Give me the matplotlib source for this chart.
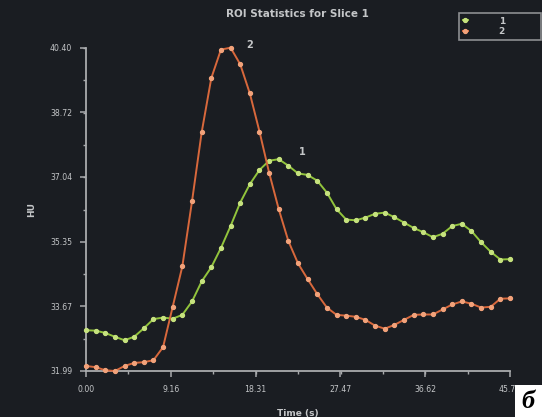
import matplotlib
matplotlib.use("Agg")
import matplotlib.pyplot as plt
from matplotlib.ticker import FixedLocator, AutoMinorLocator, FixedFormatter
from matplotlib.patches import Rectangle

# ---- data ----
time_s = [0.00, 1.04, 2.08, 3.12, 4.16, 5.20, 6.24, 7.28, 8.32, 9.36,
          10.40, 11.45, 12.49, 13.53, 14.57, 15.61, 16.65, 17.69, 18.73, 19.77,
          20.81, 21.85, 22.89, 23.93, 24.97, 26.01, 27.05, 28.09, 29.13, 30.17,
          31.21, 32.26, 33.30, 34.34, 35.38, 36.42, 37.46, 38.50, 39.54, 40.58,
          41.62, 42.66, 43.70, 44.74, 45.78]

roi1 = [33.05, 33.04, 32.98, 32.88, 32.79, 32.88, 33.10, 33.34, 33.38, 33.35,
        33.45, 33.80, 34.32, 34.69, 35.19, 35.76, 36.37, 36.85, 37.22, 37.46,
        37.50, 37.33, 37.13, 37.09, 36.94, 36.63, 36.20, 35.93, 35.91, 35.98,
        36.08, 36.11, 35.99, 35.85, 35.71, 35.60, 35.47, 35.56, 35.76, 35.82,
        35.63, 35.34, 35.09, 34.89, 34.90]

roi2 = [32.12, 32.09, 32.01, 31.99, 32.12, 32.20, 32.22, 32.27, 32.61, 33.66,
        34.71, 36.41, 38.20, 39.61, 40.35, 40.40, 39.97, 39.21, 38.22, 37.15,
        36.20, 35.37, 34.79, 34.38, 33.99, 33.64, 33.45, 33.43, 33.40, 33.32,
        33.17, 33.09, 33.19, 33.32, 33.45, 33.46, 33.46, 33.59, 33.72, 33.80,
        33.74, 33.64, 33.66, 33.87, 33.88]

series_names = ["1", "2"]
x_ticks = [0.00, 9.16, 18.31, 27.47, 36.62, 45.78]
x_tick_labels = ["0.00", "9.16", "18.31", "27.47", "36.62", "45.78"]
y_ticks = [31.99, 33.67, 35.35, 37.04, 38.72, 40.40]
y_tick_labels = ["31.99", "33.67", "35.35", "37.04", "38.72", "40.40"]

title = "ROI Statistics for Slice 1"
xlabel = "Time (s)"
ylabel = "HU"

# ---- style ----
bg = "#1a1d22"
fg = "#c4c6c8"
spine_c = "#a9abad"
green = "#92c43c"
green_m = "#c6e27e"
orange = "#d8683c"
orange_m = "#f2a27a"

fig = plt.figure(figsize=(5.42, 4.17), dpi=100, facecolor=bg)
ax = fig.add_axes([86/542, 1-371/417, (510-86)/542, (371-47.7)/417])
ax.set_facecolor(bg)

ax.plot(time_s, roi1, color=green, lw=1.4, marker="o", ms=2.8,
        mfc=green_m, mec=green_m, clip_on=False, zorder=3, label=series_names[0])
ax.plot(time_s, roi2, color=orange, lw=1.4, marker="o", ms=2.8,
        mfc=orange_m, mec=orange_m, clip_on=False, zorder=3, label=series_names[1])

ax.set_xlim(x_ticks[0], x_ticks[-1])
ax.set_ylim(y_ticks[0], y_ticks[-1])

ax.xaxis.set_major_locator(FixedLocator(x_ticks))
ax.xaxis.set_major_formatter(FixedFormatter(x_tick_labels))
ax.yaxis.set_major_locator(FixedLocator(y_ticks))
ax.yaxis.set_major_formatter(FixedFormatter(y_tick_labels))
ax.xaxis.set_minor_locator(AutoMinorLocator(2))
ax.yaxis.set_minor_locator(AutoMinorLocator(2))

for s in ["top", "right"]:
    ax.spines[s].set_visible(False)
for s in ["left", "bottom"]:
    ax.spines[s].set_color(spine_c)
    ax.spines[s].set_linewidth(1.3)

ax.tick_params(which="major", colors=spine_c, labelcolor=fg, labelsize=5.6,
               length=4, width=1.1, direction="out", pad=6)
ax.tick_params(which="minor", colors=spine_c, length=2, width=1.0, direction="out")

ax.set_xlabel(xlabel, color=fg, fontsize=6.5, fontweight="bold", labelpad=11)
ax.set_ylabel(ylabel, color=fg, fontsize=6.5, fontweight="bold", labelpad=10)
fig.text(297/542, 1-14/417, title, color=fg, fontsize=7.5, fontweight="bold",
         ha="center", va="center")

# series annotations
ax.annotate(series_names[1], xy=(time_s[15], roi2[15]), xytext=(14, 2),
            textcoords="offset points", color=fg, fontsize=7, fontweight="bold",
            ha="center", va="center", annotation_clip=False)
ax.annotate(series_names[0], xy=(time_s[20], roi1[20]), xytext=(17, 5),
            textcoords="offset points", color=fg, fontsize=7, fontweight="bold",
            ha="center", va="center", annotation_clip=False)

# legend
leg = ax.legend(loc="upper left", bbox_to_anchor=(459/542, 1-13/417, 82/542, 0.0),
                bbox_transform=fig.transFigure, mode="expand", frameon=True,
                fontsize=6.5, handlelength=0.6, handletextpad=3.4, borderpad=0.4,
                labelspacing=0.15, borderaxespad=0)
leg.get_frame().set_facecolor(bg)
leg.get_frame().set_edgecolor(spine_c)
leg.get_frame().set_linewidth(1.2)
leg.get_frame().set_boxstyle("square", pad=0)
for t in leg.get_texts():
    t.set_color(fg)
    t.set_fontweight("bold")

# white corner box with letter
fig.patches.append(Rectangle((515/542, 0), 27/542, 32/417, transform=fig.transFigure,
                             facecolor="white", edgecolor="none", zorder=5))
fig.text(528/542, 15/417, "б", fontsize=19, fontweight="bold", fontstyle="italic",
         family=["Liberation Serif", "DejaVu Serif"], color="black",
         ha="center", va="center", zorder=6)

fig.savefig("out.png", dpi=100, facecolor=bg)
